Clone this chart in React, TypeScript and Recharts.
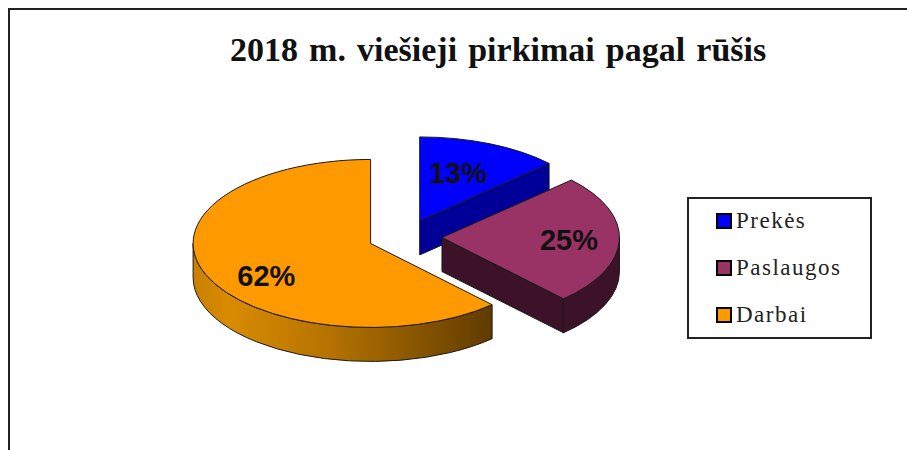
import React from "react";
import {Legend, Pie, PieChart} from "recharts";

const categories = ["Prekės", "Paslaugos", "Darbai"];
const shares = [13, 25, 62];

const topColors = ["#0000ff", "#993366", "#ff9900"];
const sideColors = ["#000099", "#3b1228", "url(#darbaiSide)"];
const labelDistance = [0.6, 0.71, 0.68];
const labelNudge = [[-4, -2], [1, 1], [8, 12]];

const data = categories.map((name, i) => ({name, value: shares[i], fill: topColors[i]}));

// Excel style 3D look: the pie is squashed and gets a rim
const TILT = 84 / 177.5;
const DEPTH = 34;
const EXPLODE = 37;
const EDGE = "#1a1a1a";

const rad = (deg: number) => (deg * Math.PI) / 180;

// recharts angles run counter clockwise from 3 o'clock, this is clockwise from 12
const clock = (angle: number) => 90 - angle;

const sliceCenter = (cx: number, cy: number, midAngle: number) => ({
    x: cx + EXPLODE * Math.sin(rad(clock(midAngle))),
    y: cy - EXPLODE * TILT * Math.cos(rad(clock(midAngle))),
});

const Slice3D = (props: any) => {
    const {cx, cy, outerRadius, startAngle, endAngle, midAngle, fill, index} = props;
    const c = sliceCenter(cx, cy, midAngle);
    const rx = outerRadius;
    const ry = outerRadius * TILT;
    const from = clock(startAngle);
    const to = clock(endAngle);
    const at = (a: number, dy = 0) => ({
        x: c.x + rx * Math.sin(rad(a)),
        y: c.y - ry * Math.cos(rad(a)) + dy,
    });
    const pt = (p: {x: number; y: number}) => `${p.x} ${p.y}`;

    const large = to - from > 180 ? 1 : 0;
    const top = `M${pt(c)} L${pt(at(from))} A${rx} ${ry} 0 ${large} 1 ${pt(at(to))} Z`;

    const side = sideColors[index];
    const rimFrom = Math.max(from, 90);
    const rimTo = Math.min(to, 270);
    const hasRim = rimTo > rimFrom;
    const rim = `M${pt(at(rimFrom))} A${rx} ${ry} 0 0 1 ${pt(at(rimTo))} L${pt(at(rimTo, DEPTH))} A${rx} ${ry} 0 0 0 ${pt(at(rimFrom, DEPTH))} Z`;

    // only the cut face turned to the viewer is drawn
    const endVisible = to > 0 && to < 180;
    const bottom = {x: c.x, y: c.y + DEPTH};
    const face = `M${pt(c)} L${pt(at(to))} L${pt(at(to, DEPTH))} L${pt(bottom)} Z`;

    return (
        <g>
            <defs>
                <linearGradient id="darbaiSide" gradientUnits="userSpaceOnUse" x1={193} x2={493} y1={0} y2={0}>
                    <stop offset="0" stopColor="#c98000" />
                    <stop offset="0.12" stopColor="#d98b00" />
                    <stop offset="0.45" stopColor="#b57300" />
                    <stop offset="0.75" stopColor="#875500" />
                    <stop offset="1" stopColor="#5f3b00" />
                </linearGradient>
            </defs>
            {endVisible && <path d={face} fill={side} stroke={EDGE} strokeWidth={1} />}
            {hasRim && <path d={rim} fill={side} stroke={EDGE} strokeWidth={1} />}
            <path d={top} fill={fill} stroke={EDGE} strokeWidth={1} />
        </g>
    );
};

const renderPercent = (props: any) => {
    const {cx, cy, outerRadius, midAngle, percent, index} = props;
    const c = sliceCenter(cx, cy, midAngle);
    const k = labelDistance[index];
    const x = c.x + outerRadius * k * Math.sin(rad(clock(midAngle))) + labelNudge[index][0];
    const y = c.y - outerRadius * TILT * k * Math.cos(rad(clock(midAngle))) + labelNudge[index][1];
    return (
        <text
            x={x}
            y={y}
            textAnchor="middle"
            dominantBaseline="central"
            fontFamily="Liberation Sans"
            fontWeight="bold"
            fontSize={29}
            fill="#111"
        >
            {`${Math.round(percent * 100)}%`}
        </text>
    );
};

const LegendBox = ({payload}: any) => (
    <div
        style={{
            boxSizing: "border-box",
            width: 185,
            height: 142,
            border: "2px solid #222",
            fontFamily: "Liberation Serif",
            fontSize: 23,
            letterSpacing: 1.5,
            color: "#222",
        }}
    >
        {(payload || []).map((item: any) => (
            <div
                key={item.value}
                style={{display: "flex", alignItems: "center", height: 47, paddingLeft: 27, position: "relative", top: -2}}
            >
                <span
                    style={{
                        boxSizing: "border-box",
                        width: 16,
                        height: 16,
                        marginRight: 4,
                        background: item.color,
                        border: "2px solid #000",
                    }}
                />
                {item.value}
            </div>
        ))}
    </div>
);

export default function App() {
    return (
        <div style={{position: "absolute", left: 0, top: 0, width: 907, height: 450, overflow: "hidden", background: "#fff"}}>
            <div
                style={{
                    position: "absolute",
                    left: 8,
                    top: 8,
                    width: 899,
                    height: 442,
                    boxSizing: "border-box",
                    borderLeft: "2px solid #222",
                    borderTop: "2px solid #222",
                }}
            />
            <div
                style={{
                    position: "absolute",
                    left: 230,
                    top: 31,
                    width: 560,
                    whiteSpace: "nowrap",
                    fontFamily: "Liberation Serif",
                    fontWeight: "bold",
                    fontSize: 34,
                    wordSpacing: 2.6,
                    lineHeight: "38px",
                    color: "#111",
                }}
            >
                2018 m. viešieji pirkimai pagal rūšis
            </div>
            <div style={{position: "absolute", left: 0, top: 0}}>
                <PieChart width={907} height={450} margin={{top: 0, right: 0, bottom: 0, left: 0}}>
                    <Pie
                        data={data}
                        dataKey="value"
                        nameKey="name"
                        cx={405}
                        cy={237}
                        outerRadius={177.5}
                        startAngle={90}
                        endAngle={-270}
                        paddingAngle={0}
                        shape={Slice3D}
                        label={renderPercent}
                        labelLine={false}
                        isAnimationActive={false}
                    />
                    <Legend
                        layout="vertical"
                        align="right"
                        verticalAlign="middle"
                        itemSorter={null}
                        content={LegendBox}
                        wrapperStyle={{left: 687, top: 197, width: 185, height: 142}}
                    />
                </PieChart>
            </div>
        </div>
    );
}
